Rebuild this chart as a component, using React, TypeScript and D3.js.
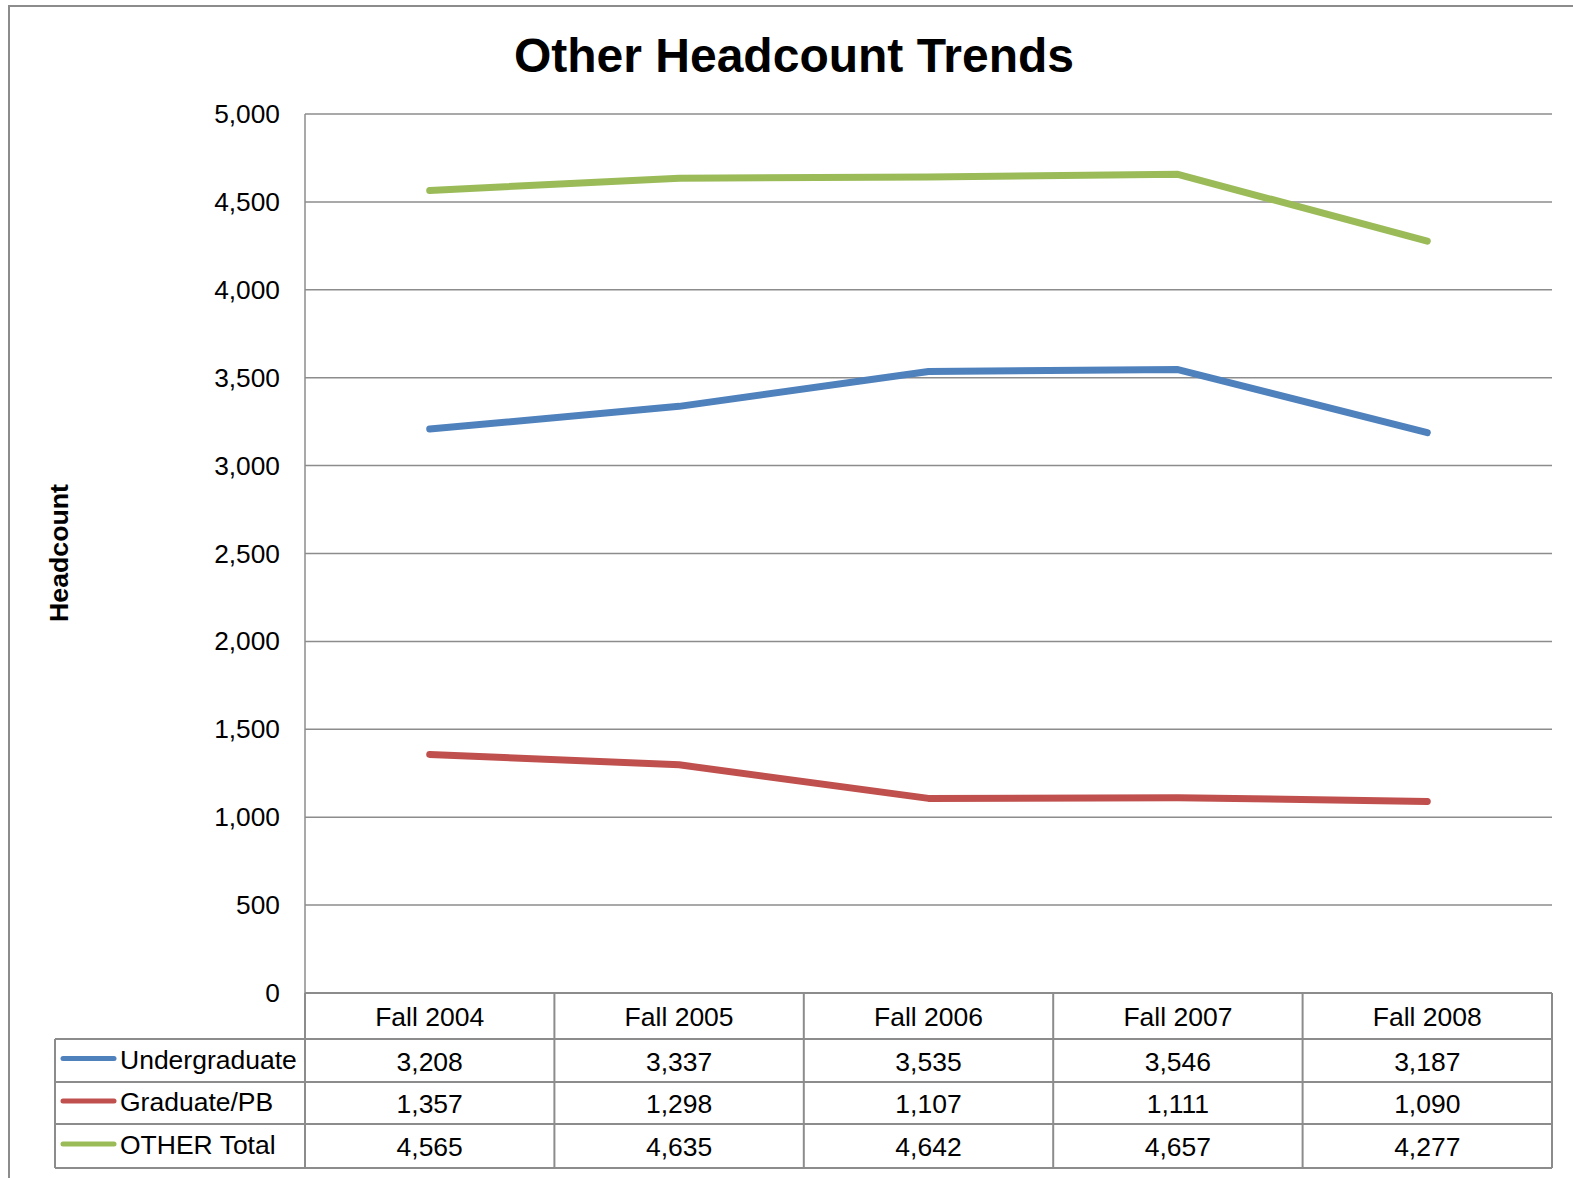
import React from "react";
import * as d3 from "d3";

const categories = ["Fall 2004", "Fall 2005", "Fall 2006", "Fall 2007", "Fall 2008"];
const seriesNames = ["Undergraduate", "Graduate/PB", "OTHER Total"];
const undergraduate = [3208, 3337, 3535, 3546, 3187];
const graduate = [1357, 1298, 1107, 1111, 1090];
const otherTotal = [4565, 4635, 4642, 4657, 4277];
const seriesColors = ["#4f81bd", "#c0504d", "#9bbb59"];
const yTicks = [0, 500, 1000, 1500, 2000, 2500, 3000, 3500, 4000, 4500, 5000];

const W = 1573;
const H = 1178;
const plotLeft = 305;
const plotRight = 1552;
const plotTop = 114;
const plotBottom = 993;
const rowLines = [993, 1039, 1082, 1124, 1168];
const legendLeft = 55;
const font = "'Liberation Sans', Arial, sans-serif";
const grid = "#8c8c8c";

export default function App() {
  const series = [undergraduate, graduate, otherTotal];
  const x = d3.scaleBand<string>().domain(categories).range([plotLeft, plotRight]).padding(0);
  const y = d3.scaleLinear().domain([0, 5000]).range([plotBottom, plotTop]);
  const fmt = d3.format(",");
  const line = d3
    .line<number>()
    .x((_, i) => (x(categories[i]) as number) + x.bandwidth() / 2)
    .y((d) => y(d));

  return (
    <svg
      width={W}
      height={H}
      style={{ position: "absolute", left: 0, top: 0, background: "#fff" }}
      fontFamily={font}
    >
      <rect x={0} y={0} width={W} height={H} fill="#fff" />
      <rect x={9} y={6} width={W + 20} height={H + 20} fill="none" stroke="#8c8c8c" strokeWidth={2} />
      <text x={794} y={72} textAnchor="middle" fontSize={48} fontWeight="bold" fill="#000">
        Other Headcount Trends
      </text>
      {yTicks.map((t) => (
        <line key={t} x1={plotLeft} x2={plotRight} y1={y(t)} y2={y(t)} stroke={grid} strokeWidth={1.5} />
      ))}
      <line x1={plotLeft} x2={plotLeft} y1={plotTop} y2={plotBottom} stroke={grid} strokeWidth={1.5} />
      {yTicks.map((t) => (
        <text key={"l" + t} x={280} y={y(t) + 9} textAnchor="end" fontSize={26.3} fill="#000">
          {fmt(t)}
        </text>
      ))}
      <text
        transform={`translate(68,553) rotate(-90)`}
        textAnchor="middle"
        fontSize={26.7}
        fontWeight="bold"
        fill="#000"
      >
        Headcount
      </text>
      {series.map((s, i) => (
        <path
          key={i}
          d={line(s) as string}
          fill="none"
          stroke={seriesColors[i]}
          strokeWidth={7}
          strokeLinecap="round"
          strokeLinejoin="round"
        />
      ))}
      <g stroke={grid} strokeWidth={2} fill="none">
        <line x1={plotLeft} x2={plotRight} y1={rowLines[0]} y2={rowLines[0]} />
        {rowLines.slice(1).map((ry, i) => (
          <line key={i} x1={legendLeft} x2={plotRight} y1={ry} y2={ry} />
        ))}
        <line x1={legendLeft} x2={legendLeft} y1={rowLines[1]} y2={rowLines[4]} />
        {categories.map((c) => (
          <line key={c} x1={x(c) as number} x2={x(c) as number} y1={rowLines[0]} y2={rowLines[4]} />
        ))}
        <line x1={plotRight} x2={plotRight} y1={rowLines[0]} y2={rowLines[4]} />
      </g>
      {categories.map((c) => (
        <text
          key={c}
          x={(x(c) as number) + x.bandwidth() / 2}
          y={(rowLines[0] + rowLines[1]) / 2 + 10}
          textAnchor="middle"
          fontSize={26.5}
          fill="#000"
        >
          {c}
        </text>
      ))}
      {series.map((s, r) => {
        const cy = (rowLines[r + 1] + rowLines[r + 2]) / 2;
        return (
          <g key={r}>
            <line x1={63} x2={114} y1={cy - 2} y2={cy - 2} stroke={seriesColors[r]} strokeWidth={5} strokeLinecap="round" />
            <text x={120} y={cy + 8} fontSize={26.5} fill="#000">
              {seriesNames[r]}
            </text>
            {s.map((v, i) => (
              <text
                key={i}
                x={(x(categories[i]) as number) + x.bandwidth() / 2}
                y={cy + 10}
                textAnchor="middle"
                fontSize={26.5}
                fill="#000"
              >
                {fmt(v)}
              </text>
            ))}
          </g>
        );
      })}
    </svg>
  );
}
